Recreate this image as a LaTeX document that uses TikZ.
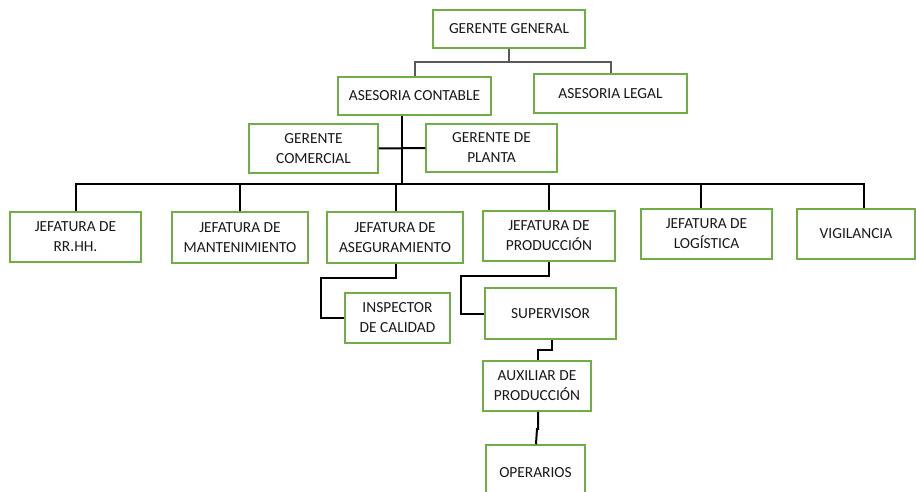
\documentclass[tikz,border=0pt]{standalone}
\usepackage{fontspec}
\setmainfont{Carlito}
\definecolor{boxgreen}{HTML}{70AD47}
\definecolor{topline}{HTML}{595959}
\begin{document}
\begin{tikzpicture}[x=1pt,y=-1pt,
  box/.style={draw=boxgreen, line width=1.5pt, fill=white, align=center,
    inner sep=0pt, text=black!90, font=\fontsize{15.4}{20}\selectfont},
  link/.style={draw=black, line width=2pt, line join=miter},
  toplink/.style={draw=topline, line width=2pt, line join=miter}]
\useasboundingbox (0,0) rectangle (916,492);
\clip (0,0) rectangle (916,492);

% boxes
\node[box, minimum width=152pt, minimum height=38pt] (gg) at (509,29) {GERENTE GENERAL};
\node[box, minimum width=153pt, minimum height=38pt] (contable) at (414.5,96) {ASESORIA CONTABLE};
\node[box, minimum width=153pt, minimum height=39pt] (legal) at (610.5,93.5) {ASESORIA LEGAL};
\node[box, minimum width=129pt, minimum height=49pt] (comercial) at (313.5,148.5) {GERENTE\\COMERCIAL};
\node[box, minimum width=131pt, minimum height=48pt] (planta) at (491.5,148) {GERENTE DE\\PLANTA};

\node[box, minimum width=131pt, minimum height=50pt] (rrhh) at (75.5,237) {JEFATURA DE\\RR.HH.};
\node[box, minimum width=136pt, minimum height=51pt] (mant) at (240,237.5) {JEFATURA DE\\MANTENIMIENTO};
\node[box, minimum width=136pt, minimum height=51pt] (aseg) at (395,237.5) {JEFATURA DE\\ASEGURAMIENTO};
\node[box, minimum width=132pt, minimum height=50pt] (prod) at (549,236) {JEFATURA DE\\PRODUCCIÓN};
\node[box, minimum width=131pt, minimum height=50pt] (logis) at (706.5,234) {JEFATURA DE\\LOGÍSTICA};
\node[box, minimum width=118pt, minimum height=50pt] (vigil) at (856,234) {VIGILANCIA};

\node[box, minimum width=105pt, minimum height=50pt] (insp) at (397.5,318) {INSPECTOR\\DE CALIDAD};
\node[box, minimum width=131pt, minimum height=51pt] (sup) at (550.5,313.5) {SUPERVISOR};
\node[box, minimum width=108pt, minimum height=50pt] (aux) at (537,386) {AUXILIAR DE\\PRODUCCIÓN};
\node[box, minimum width=99pt, minimum height=55pt] (oper) at (535.5,472.5) {OPERARIOS};

% helper points of the connectors
\coordinate (gjoin) at (509,62);
\coordinate (trunk) at (402,184);
\coordinate (abend) at (321,278);
\coordinate (pbend) at (461,276);
\coordinate (sbend) at (552,350);

% top level
\draw[toplink] (gg.south) -- (gjoin) -| (contable.north);
\draw[toplink] (gjoin) -| (legal.north);

% trunk and managers
\draw[link] (contable.south -| trunk) -- (trunk);
\draw[link] (comercial.east) -- (planta.west);

% main bar and drops
\draw[link] (rrhh.north) |- (trunk) -| ([xshift=8pt]vigil.north);
\draw[link] (mant.north) -- (mant.north |- trunk);
\draw[link] ([xshift=1pt]aseg.north) -- ([xshift=1pt]aseg.north |- trunk);
\draw[link] (prod.north) -- (prod.north |- trunk);
\draw[link] ([xshift=-5.5pt]logis.north) -- ([xshift=-5.5pt]logis.north |- trunk);

% lower branches
\draw[link] ([xshift=1pt]aseg.south) |- (abend) |- (insp.west);
\draw[link] (prod.south) |- (pbend) |- (sup.west);
\draw[link] (sup.south -| sbend) -- (sbend) -| ([xshift=1pt]aux.north);
\draw[link] ([xshift=1pt]aux.south) -- ++(0,17) -- ++(-1,0) -- ([xshift=0.5pt]oper.north);
\end{tikzpicture}
\end{document}
